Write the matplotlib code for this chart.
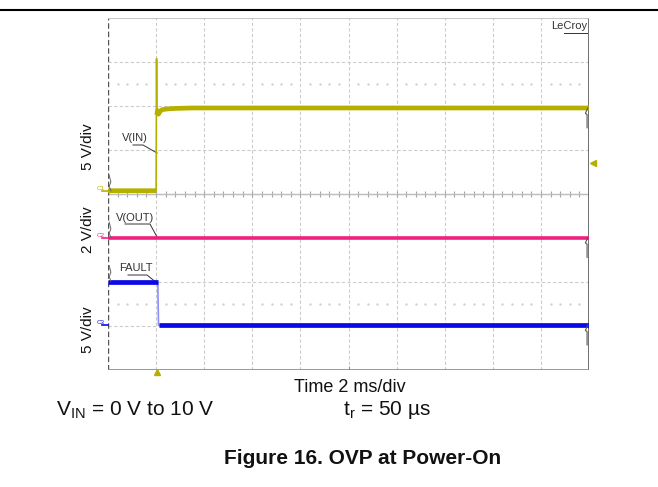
import numpy as np
import matplotlib
matplotlib.use("Agg")
from matplotlib import pyplot as plt

plt.rcParams['font.family'] = ['Liberation Sans', 'DejaVu Sans']

# time in ms (10 div x 2 ms/div)
t_vin = [0, 2.0, 2.02, 2.03, 2.06, 2.1, 2.16, 2.24, 2.35, 2.5, 2.8, 3.5, 20]
v_vin = [0, 0, 15.0, 8.6, 9.1, 8.7, 9.0, 9.2, 9.25, 9.3, 9.35, 9.4, 9.4]
t_vout = [0, 20]
v_vout = [0, 0]
t_fault = [0, 2.07, 2.1, 20]
v_fault = [4.9, 4.9, 0, 0]

# channel settings: volts per div, ground offset in div from bottom
ch_scale = {'C1': 5, 'C2': 2, 'C3': 5}
ch_offset = {'C1': 4.075, 'C2': 3.01, 'C3': 1.02}
trig_time = 2.02
trig_level = 3.1

W, H = 658, 487
fig = plt.figure(figsize=(W / 100, H / 100), dpi=100)
x0, x1, y0, y1 = 108, 589, 18, 370
ax = fig.add_axes([x0 / W, 1 - y1 / H, (x1 - x0) / W, (y1 - y0) / H])
ax.set_xlim(0, 20)
ax.set_ylim(0, 8)
ax.set_xticks([])
ax.set_yticks([])
for s in ax.spines.values():
    s.set_visible(False)


def px(x, y):
    return ((x - x0) / (x1 - x0) * 20, (y1 - y) / (y1 - y0) * 8)


def break_jumps(t, y, lim=0.3):
    # insert gaps at steep edges so only flat parts get the thick stroke
    tt, yy = [t[0]], [y[0]]
    for i in range(1, len(t)):
        if abs(y[i] - y[i - 1]) > lim:
            tt.append(np.nan)
            yy.append(np.nan)
        tt.append(t[i])
        yy.append(y[i])
    return np.array(tt), np.array(yy)


# grid
gc = '#cccccc'
for xv in np.arange(2, 20, 2):
    ax.axvline(xv, color=gc, lw=0.8, ls=(0, (3, 2)), zorder=1)
for yv in range(1, 8):
    ax.axhline(yv, color=gc, lw=0.8, ls=(0, (3, 2)), zorder=1)
xd = np.array([x for x in np.arange(0.4, 20, 0.4) if abs(x / 2 - round(x / 2)) > 0.01])
for yv in [6.5, 1.5]:
    ax.plot(xd, np.full(len(xd), yv), ls='none', marker='s',
            ms=0.7, color='#d2d2d2', zorder=1)
# center ticks
xt = np.arange(0.4, 20, 0.4)
ax.vlines(xt, 4 - 0.06, 4 + 0.06, color='#a5a5a5', lw=0.8, zorder=1)
ax.axhline(4, color='#bdbdbd', lw=1.0, zorder=1)
ax.vlines([10], 0, 0.08, color='#999999', lw=0.8, zorder=1)
# borders
ax.plot([0, 0], [0, 8], color='#555555', lw=1.0, ls=(0, (4, 2)), zorder=2)
ax.plot([20, 20], [0, 8], color='#555555', lw=1.2, zorder=2)
ax.plot([0, 20], [8, 8], color='#bbbbbb', lw=1.2, zorder=2)
ax.plot([0, 20], [0, 0], color='#888888', lw=1.2, zorder=2)

traces = [
    ('C1', t_vin, v_vin, '#b5b000', '#b5b000'),
    ('C2', t_vout, v_vout, '#f0207f', '#f0207f'),
    ('C3', t_fault, v_fault, '#0a0ae6', '#8c8cff'),
]
for ch, t, v, col, edge_col in traces:
    t = np.array(t, float)
    y = ch_offset[ch] + np.array(v, float) / ch_scale[ch]
    ax.plot(t, y, color=edge_col, lw=1.2, zorder=3)
    tb, yb = break_jumps(t, y)
    ax.plot(tb, yb, color=col, lw=3.4 if ch != 'C2' else 2.6, zorder=3,
            solid_capstyle='butt')
    # ground marker
    gy = ch_offset[ch]
    ax.text(-0.12, gy, ch, color=col, fontsize=4.5, ha='right', va='bottom',
            clip_on=False)
    ax.plot([-0.25, 0], [gy, gy], color=col, lw=1.2, clip_on=False, zorder=3)
    # right end hook
    yend = y[-1]
    ax.plot([19.95, 19.85, 19.92, 19.92], [yend, yend - 0.12, yend - 0.15, yend - 0.45],
            color='#555555', lw=0.8, clip_on=False, zorder=4)

# small left hooks
for hy in [ch_offset['C1'], ch_offset['C2'], ch_offset['C3'] + 1.0]:
    ax.plot([0.05, 0.12, 0.05, 0.12], [hy + 0.35, hy + 0.2, hy + 0.1, hy],
            color='#666666', lw=0.7, zorder=4)

# trigger markers
ax.plot([trig_time], [-0.05], marker='^', ms=4, color='#b5b000', clip_on=False)
ax.plot([20.15], [ch_offset['C1'] + trig_level / ch_scale['C1']], marker='<',
        ms=5, color='#b5b000', clip_on=False)

# trace labels with leader lines
tc = '#333333'
ax.text(*px(135, 138), 'V(IN)', fontsize=8, color=tc, ha='center', va='center')
ax.plot(*zip(px(133, 145), px(143, 145), px(157, 153)), color=tc, lw=0.7)
ax.text(*px(135, 218), 'V(OUT)', fontsize=8, color=tc, ha='center', va='center')
ax.plot(*zip(px(125, 224), px(150, 224), px(157, 237)), color=tc, lw=0.7)
ax.text(*px(136, 268), 'FAULT', fontsize=8, color=tc, ha='center', va='center')
ax.plot(*zip(px(128, 275), px(147, 275), px(157, 283)), color=tc, lw=0.7)

# LeCroy tag
ax.text(*px(587, 26), 'LeCroy', fontsize=8, color=tc, ha='right', va='center')
ax.plot(*zip(px(564, 32.5), px(587, 32.5)), color=tc, lw=0.7)

# side labels
for ly, lab in [(147, '5 V/div'), (230, '2 V/div'), (330, '5 V/div')]:
    fig.text(88 / W, 1 - ly / H, lab, rotation=90, fontsize=11, ha='center',
             va='center', color='#111111')

# header rule
fig.add_artist(plt.Line2D([0, 1], [1 - 10 / H, 1 - 10 / H], color='black', lw=1.5))

fig.text(350 / W, 1 - 387 / H, 'Time 2 ms/div', fontsize=13, ha='center',
         va='center', color='#111111')
fig.text(56 / W, 1 - 410 / H, r'V$_{\mathregular{IN}}$ = 0 V to 10 V', fontsize=15,
         ha='left', va='center', color='#111111')
fig.text(343 / W, 1 - 410 / H, r't$_{\mathregular{r}}$ = 50 µs', fontsize=15,
         ha='left', va='center', color='#111111')
fig.text(363 / W, 1 - 458 / H, 'Figure 16. OVP at Power-On', fontsize=15,
         fontweight='bold', ha='center', va='center', color='#111111')

fig.savefig('out.png', dpi=100)
